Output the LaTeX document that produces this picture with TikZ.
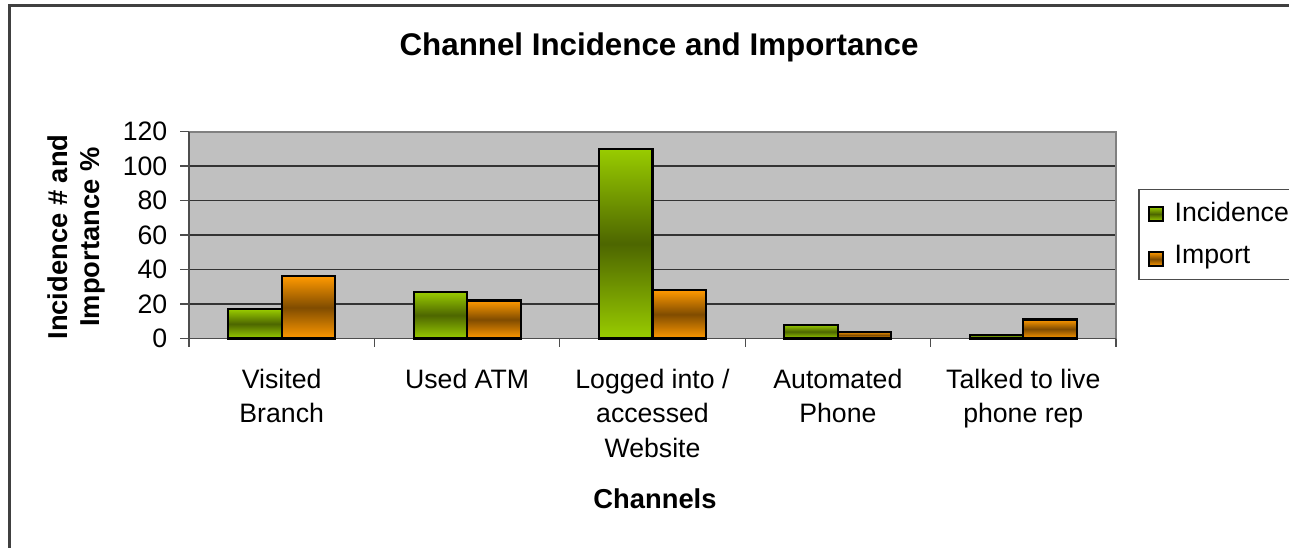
\documentclass[tikz,border=0pt]{standalone}
\usepackage{fontspec}
\setmainfont{Liberation Sans}
\usetikzlibrary{positioning}
\definecolor{lime}{HTML}{99CC00}
\definecolor{moss}{HTML}{4D6600}
\definecolor{amber}{HTML}{FF9900}
\definecolor{umber}{HTML}{804C00}
\definecolor{wall}{HTML}{C0C0C0}
\definecolor{rim}{HTML}{808080}
\colorlet{frame}{black!75}

\begin{document}
\begin{tikzpicture}[x=0.75pt,y=-0.75pt,font=\fontsize{20}{26}\selectfont,
    incbar/.style={draw=black,line width=1.6pt,top color=lime,bottom color=lime,middle color=moss},
    impbar/.style={draw=black,line width=1.6pt,top color=amber,bottom color=amber,middle color=umber},
    axislabel/.style={font=\fontsize{20.5}{24}\selectfont\bfseries}]
    \useasboundingbox (0,0) rectangle (1289,547);
    \draw[frame,line width=1.8pt] (9.5,5.5) rectangle (1340,600);
    % plot area and grid
    \fill[wall] (189,131.5) rectangle (1116,338.5);
    \foreach \v in {20,40,...,100}{
      \draw[black!80,line width=0.8pt] (189,338.5-1.725*\v) -- (1116,338.5-1.725*\v);}
    \draw[rim,line width=1.5pt] (189,131.5) -- (1116,131.5) -- (1116,338.5);
    \draw[rim!60!black,line width=1.2pt] (189,131.5) -- (189,338.5) -- (1116,338.5);
    \foreach \v in {0,20,...,120}{
      \draw[rim!60!black,line width=1pt] (180,338.5-1.725*\v) -- (189,338.5-1.725*\v);
      \node[anchor=east] (tick\v) at (172,338.5-1.725*\v) {\v};}
    \foreach \i in {0,...,5}{
      \draw[rim!60!black,line width=1pt] (189+185.4*\i,338.5) -- ++(0,8);}
    % bars: incidence / import
    \foreach \i/\inc/\imp in {0/17/36,1/27/22,2/110/28,3/8/4,4/2/11}{
      \pgfmathsetmacro\cx{281.7+185.4*\i}
      \draw[incbar] (\cx-53.5,338.5) rectangle (\cx,338.5-1.725*\inc);
      \draw[impbar] (\cx,338.5) rectangle (\cx+53.5,338.5-1.725*\imp);}
    \foreach \i/\lab in {0/{Visited\\Branch},1/{Used ATM},2/{Logged into /\\accessed\\Website},
      3/{Automated\\Phone},4/{Talked to live\\phone rep}}{
      \node[anchor=north,align=center] (cat\i) at (281.7+185.4*\i,364) {\lab};}
    % titles
    \node[font=\fontsize{23.5}{28}\selectfont\bfseries] (title) at (659,47) {Channel Incidence and Importance};
    \node[axislabel] (xtitle) at (655,499) {Channels};
    \node[axislabel,rotate=90,align=center] (ytitle) at (76,237) {Incidence \# and\\Importance \%};
    % legend
    \draw[black!70,line width=0.8pt,fill=white] (1139,189.3) rectangle (1340,279.3);
    \draw[incbar,line width=1pt] (1149,207) rectangle (1163,221);
    \node[anchor=west] (leginc) at (1170,212) {Incidence};
    \draw[impbar,line width=1pt] (1149,252) rectangle (1163,266);
    \node[anchor=west] (legimp) at (1170,257) {Import};
\end{tikzpicture}
\end{document}
